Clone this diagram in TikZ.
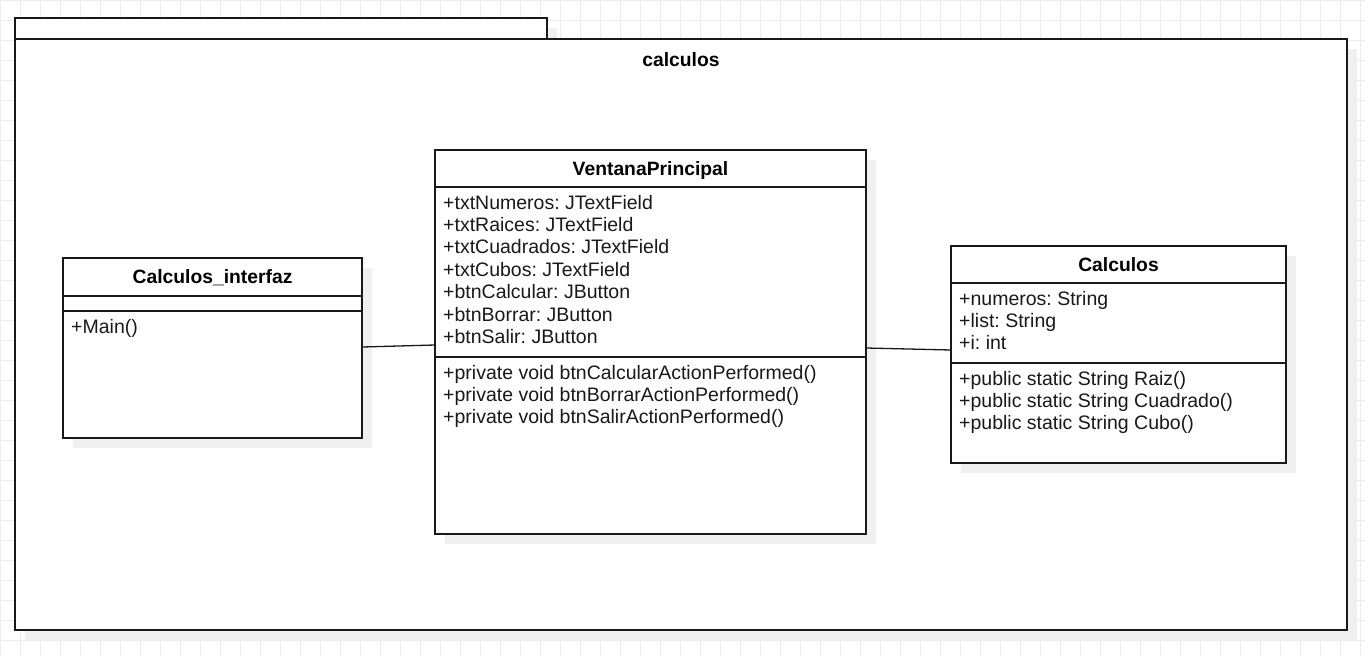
\documentclass[tikz,border=0pt]{standalone}
\usepackage{fontspec}
\setmainfont{Liberation Sans}
\usetikzlibrary{shadows}
\definecolor{gridc}{RGB}{236,236,236}
\definecolor{shadc}{RGB}{240,240,240}
\definecolor{inkc}{RGB}{25,25,25}
\frenchspacing
\begin{document}
\begin{tikzpicture}[x=1pt,y=-1pt,
  box/.style={draw=inkc, line width=1.5pt, fill=white, inner sep=0pt, outer sep=0pt, rectangle, anchor=north west},
  shad/.style={general shadow={fill=shadc, shadow xshift=10pt, shadow yshift=-10pt}},
  gridline/.style={draw=gridc, line width=1pt},
  sepline/.style={draw=inkc, line width=1.5pt},
  txt/.style={anchor=base west, inner sep=0pt, text=inkc, font=\fontsize{19.5}{22.5}\selectfont\frenchspacing},
  ttl/.style={anchor=base, inner sep=0pt, text=black, font=\fontsize{19.3}{22.5}\selectfont\bfseries},
  link/.style={draw=inkc, line width=1.3pt}]
\useasboundingbox (0,0) rectangle (1365,656);
\fill[white] (0,0) rectangle (1365,656);
% background grid
\foreach \gx in {0,20,...,1360} \draw[gridline] (\gx,0) -- (\gx,656);
\foreach \gy in {0,20,...,640} \draw[gridline] (0,\gy) -- (1365,\gy);
% package
\node[box, shad, minimum width=532pt, minimum height=21pt] (tab) at (15,18) {};
\node[box, shad, minimum width=1332pt, minimum height=591pt] (pkg) at (15,39) {};
\node[ttl] (pkgtitle) at (681,66) {calculos};
% class Calculos_interfaz
\node[box, shad, minimum width=299pt, minimum height=180pt] (ci) at (63,258) {};
\draw[sepline] (63,296) -- (362,296);
\draw[sepline] (63,311) -- (362,311);
\node[ttl] (citl) at (212.5,283.5) {Calculos\_interfaz};
\node[txt] (cim1) at (71,333) {+Main()};
% class VentanaPrincipal
\node[box, shad, minimum width=431pt, minimum height=384pt] (vp) at (435,150) {};
\draw[sepline] (435,187) -- (866,187);
\draw[sepline] (435,357) -- (866,357);
\node[ttl] (vptl) at (650.5,175) {VentanaPrincipal};
\foreach \t [count=\i] in {+txtNumeros: JTextField,+txtRaices: JTextField,+txtCuadrados: JTextField,+txtCubos: JTextField,+btnCalcular: JButton,+btnBorrar: JButton,+btnSalir: JButton}
  \node[txt] (vpa\i) at (443,{209+22.4*(\i-1)}) {\t};
\foreach \t [count=\i] in {+private void btnCalcularActionPerformed(),+private void btnBorrarActionPerformed(),+private void btnSalirActionPerformed()}
  \node[txt] (vpm\i) at (443,{379+22.4*(\i-1)}) {\t};
% class Calculos
\node[box, shad, minimum width=335pt, minimum height=217pt] (calc) at (951,246) {};
\draw[sepline] (951,283) -- (1286,283);
\draw[sepline] (951,363) -- (1286,363);
\node[ttl] (calctl) at (1118.5,271) {Calculos};
\foreach \t [count=\i] in {+numeros: String,+list: String,+i: int}
  \node[txt] (ca\i) at (959,{305+22.4*(\i-1)}) {\t};
\foreach \t [count=\i] in {+public static String Raiz(),+public static String Cuadrado(),+public static String Cubo()}
  \node[txt] (cm\i) at (959,{385+22.4*(\i-1)}) {\t};
% connectors
\draw[link] ([yshift=1pt]ci.east) -- ([yshift=-3pt]vp.west);
\draw[link] ([yshift=-6pt]vp.east) -- ([yshift=4.5pt]calc.west);
\end{tikzpicture}
\end{document}
